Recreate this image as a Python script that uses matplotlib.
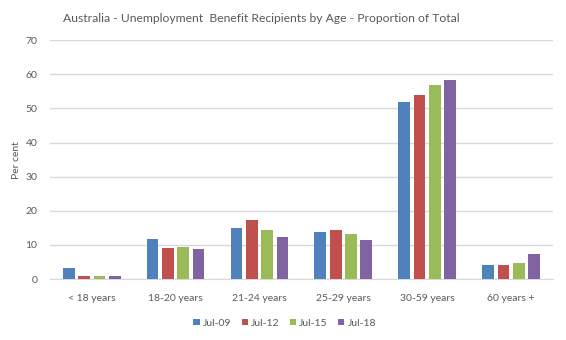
import matplotlib
matplotlib.use("Agg")
import matplotlib.pyplot as plt
import numpy as np

plt.rcParams['font.family'] = ['Lato', 'DejaVu Sans']

categories = ["< 18 years", "18-20 years", "21-24 years", "25-29 years", "30-59 years", "60 years +"]
series_names = ["Jul-09", "Jul-12", "Jul-15", "Jul-18"]
jul09 = [3.4, 11.9, 15.1, 13.7, 52.0, 4.0]
jul12 = [1.0, 9.2, 17.2, 14.3, 54.0, 4.0]
jul15 = [1.0, 9.5, 14.3, 13.1, 57.0, 4.6]
jul18 = [1.0, 8.9, 12.2, 11.6, 58.4, 7.5]
colors = ["#4F81BD", "#C0504D", "#9BBB59", "#8064A2"]

fig = plt.figure(figsize=(5.66, 3.4), dpi=100)
ax = fig.add_axes([0.088, 0.179, 0.889, 0.703])

x = np.arange(len(categories))
step = 0.183
width = 0.14
for i, (vals, name, c) in enumerate(zip([jul09, jul12, jul15, jul18], series_names, colors)):
    ax.bar(x + (i - 1.5) * step, vals, width=width, color=c, label=name, zorder=3)

ax.set_xlim(-0.5, len(categories) - 0.5)
ax.set_ylim(0, 70)
ax.set_yticks(range(0, 71, 10))
ax.yaxis.grid(True, color="#D9D9D9", linewidth=1, zorder=0)
for s in ["top", "right", "left"]:
    ax.spines[s].set_visible(False)
ax.spines["bottom"].set_color("#D9D9D9")
ax.tick_params(axis="both", length=0, colors="#595959", labelsize=7.5)
ax.tick_params(axis="x", pad=11)
ax.tick_params(axis="y", pad=9)
ax.set_xticks(x)
ax.set_xticklabels(categories)
ax.set_ylabel("Per cent", fontsize=7.5, color="#595959")
ax.yaxis.set_label_coords(-0.058, 0.5)

fig.text(0.461, 0.945, "Australia - Unemployment  Benefit Recipients by Age - Proportion of Total",
         ha="center", va="center", fontsize=8.7, color="#595959")

fig.legend(loc="center", bbox_to_anchor=(0.503, 0.05), ncol=4, frameon=False,
           fontsize=7.5, handlelength=0.6, handleheight=0.6, handletextpad=0.3,
           columnspacing=1.0, labelcolor="#595959")

fig.savefig("out.png", dpi=100)
